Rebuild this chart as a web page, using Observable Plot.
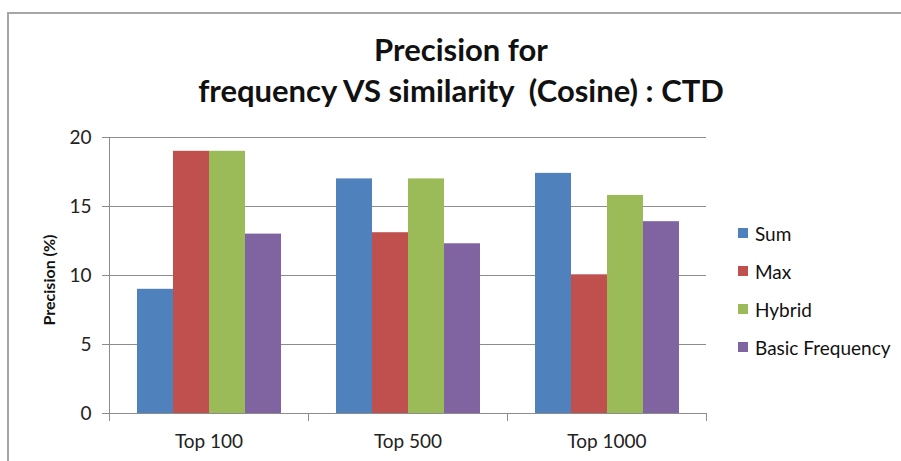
<!DOCTYPE html>
<html>
<head>
<meta charset="utf-8">
<script src="https://cdn.jsdelivr.net/npm/d3@7"></script>
<script src="https://cdn.jsdelivr.net/npm/@observablehq/plot@0.6"></script>
<style>
  html, body { margin: 0; padding: 0; background: #fff; }
  #wrap { position: relative; width: 901px; height: 461px; overflow: hidden; font-family: Lato, "Open Sans", sans-serif; }
  #border { position: absolute; left: 7px; top: 12px; width: 1000px; height: 1000px; border-left: 2px solid #a6a6a6; border-top: 2px solid #a6a6a6; }
  .tline { position: absolute; left: 0; width: 922px; text-align: center; font-weight: bold; font-size: 31px; line-height: 42px; color: #111; white-space: nowrap; }
  #ylabel { position: absolute; left: 48px; top: 280px; transform: translate(-50%, -50%) rotate(-90deg); font-weight: bold; font-size: 16px; color: #111; white-space: nowrap; }
  #legend { position: absolute; left: 738px; top: 214px; font-size: 19px; color: #111; }
  .item { display: flex; align-items: center; height: 38px; }
  .sw { width: 10px; height: 10px; margin-right: 7px; }
  #chart { position: absolute; left: 0; top: 0; }
</style>
</head>
<body>
<div id="wrap">
  <div id="border"></div>
  <div id="chart"></div>
  <div class="tline" style="top:28px">Precision for</div>
  <div class="tline" style="top:69px">frequency VS similarity&nbsp; (Cosine) : CTD</div>
  <div id="ylabel">Precision (%)</div>
  <div id="legend"></div>
</div>
<script>
const categories = ["Top 100", "Top 500", "Top 1000"];
const seriesNames = ["Sum", "Max", "Hybrid", "Basic Frequency"];
const seriesColors = ["#4F81BD", "#C0504D", "#9BBB59", "#8064A2"];
const sumValues = [9, 17, 17.4];
const maxValues = [19, 13.1, 10.05];
const hybridValues = [19, 17, 15.8];
const basicFrequencyValues = [13, 12.3, 13.9];
const yTicks = [0, 5, 10, 15, 20];

const valuesBySeries = [sumValues, maxValues, hybridValues, basicFrequencyValues];
const data = [];
categories.forEach((c, i) => {
  seriesNames.forEach((s, j) => data.push({category: c, series: s, value: valuesBySeries[j][i]}));
});

const plotHeightPx = 461 - 137 - 48;

const chart = Plot.plot({
  width: 901,
  height: 461,
  marginLeft: 108,
  marginRight: 194,
  marginTop: 137,
  marginBottom: 48,
  style: {fontFamily: "Lato, 'Open Sans', sans-serif", fontSize: "19px", color: "#222", background: "transparent"},
  fx: {domain: categories, paddingInner: 0, paddingOuter: 0, label: null, axis: null},
  x: {domain: seriesNames, paddingInner: 0, paddingOuter: 0.75, axis: null},
  y: {domain: [0, 20], axis: null},
  color: {domain: seriesNames, range: seriesColors},
  marks: [
    Plot.gridY(yTicks, {stroke: "#8c8c8c", strokeOpacity: 1, strokeWidth: 1}),
    Plot.barY(data, {fx: "category", x: "series", y: "value", fill: "series"}),
    Plot.ruleY([0], {stroke: "#8c8c8c", strokeWidth: 1}),
    Plot.frame({anchor: "left", stroke: "#8c8c8c", insetTop: plotHeightPx, insetBottom: -7}),
    Plot.frame({anchor: "right", stroke: "#8c8c8c", insetTop: plotHeightPx, insetBottom: -7}),
    Plot.frame({anchor: "left", stroke: "#8c8c8c", facet: "super"}),
    Plot.axisY(yTicks, {anchor: "left", tickSize: 7, tickPadding: 11, stroke: "#8c8c8c", fill: "#222", label: null, fontSize: 19}),
    Plot.axisFx({anchor: "bottom", tickSize: 0, tickPadding: 21, label: null, fill: "#222", fontSize: 19})
  ]
});
document.getElementById("chart").appendChild(chart);

const legend = document.getElementById("legend");
seriesNames.forEach((s, i) => {
  const item = document.createElement("div");
  item.className = "item";
  const sw = document.createElement("div");
  sw.className = "sw";
  sw.style.background = seriesColors[i];
  const t = document.createElement("span");
  t.textContent = s;
  item.appendChild(sw);
  item.appendChild(t);
  legend.appendChild(item);
});
</script>
</body>
</html>
